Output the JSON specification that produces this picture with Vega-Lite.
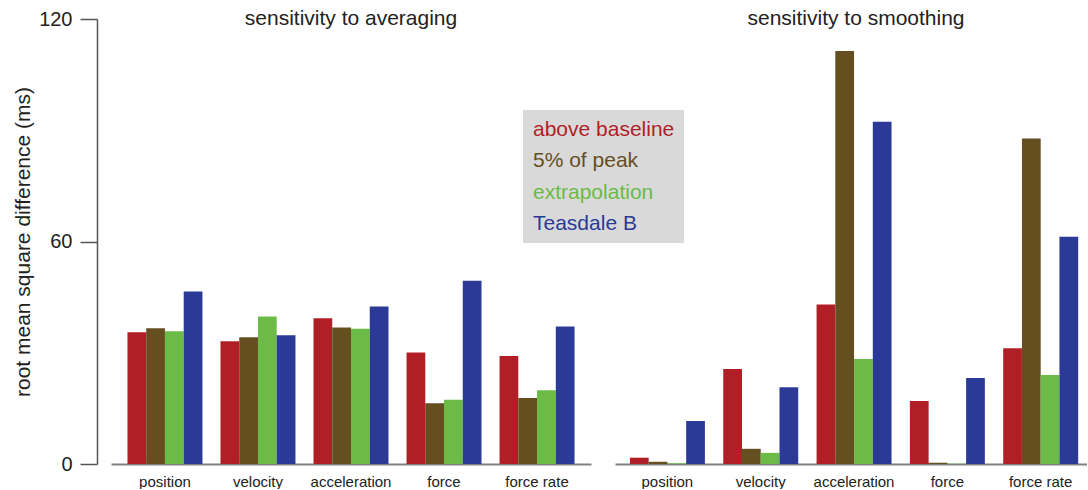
{
  "$schema": "https://vega.github.io/schema/vega-lite/v6.json",
  "padding": {"left": 12, "top": 8, "right": 0, "bottom": 0},
  "data": {"values": [
    {"panel": "averaging", "measure": "position", "method": "above baseline", "value": 35.5},
    {"panel": "averaging", "measure": "position", "method": "5% of peak", "value": 36.6},
    {"panel": "averaging", "measure": "position", "method": "extrapolation", "value": 35.8},
    {"panel": "averaging", "measure": "position", "method": "Teasdale B", "value": 46.5},
    {"panel": "averaging", "measure": "velocity", "method": "above baseline", "value": 33.1},
    {"panel": "averaging", "measure": "velocity", "method": "5% of peak", "value": 34.2},
    {"panel": "averaging", "measure": "velocity", "method": "extrapolation", "value": 39.8},
    {"panel": "averaging", "measure": "velocity", "method": "Teasdale B", "value": 34.7},
    {"panel": "averaging", "measure": "acceleration", "method": "above baseline", "value": 39.3},
    {"panel": "averaging", "measure": "acceleration", "method": "5% of peak", "value": 36.8},
    {"panel": "averaging", "measure": "acceleration", "method": "extrapolation", "value": 36.5},
    {"panel": "averaging", "measure": "acceleration", "method": "Teasdale B", "value": 42.5},
    {"panel": "averaging", "measure": "force", "method": "above baseline", "value": 30.1},
    {"panel": "averaging", "measure": "force", "method": "5% of peak", "value": 16.4},
    {"panel": "averaging", "measure": "force", "method": "extrapolation", "value": 17.3},
    {"panel": "averaging", "measure": "force", "method": "Teasdale B", "value": 49.4},
    {"panel": "averaging", "measure": "force rate", "method": "above baseline", "value": 29.1},
    {"panel": "averaging", "measure": "force rate", "method": "5% of peak", "value": 17.8},
    {"panel": "averaging", "measure": "force rate", "method": "extrapolation", "value": 19.9},
    {"panel": "averaging", "measure": "force rate", "method": "Teasdale B", "value": 37.1},
    {"panel": "smoothing", "measure": "position", "method": "above baseline", "value": 1.7},
    {"panel": "smoothing", "measure": "position", "method": "5% of peak", "value": 0.6},
    {"panel": "smoothing", "measure": "position", "method": "extrapolation", "value": 0.2},
    {"panel": "smoothing", "measure": "position", "method": "Teasdale B", "value": 11.6},
    {"panel": "smoothing", "measure": "velocity", "method": "above baseline", "value": 25.6},
    {"panel": "smoothing", "measure": "velocity", "method": "5% of peak", "value": 4.1},
    {"panel": "smoothing", "measure": "velocity", "method": "extrapolation", "value": 3.0},
    {"panel": "smoothing", "measure": "velocity", "method": "Teasdale B", "value": 20.7},
    {"panel": "smoothing", "measure": "acceleration", "method": "above baseline", "value": 43.0},
    {"panel": "smoothing", "measure": "acceleration", "method": "5% of peak", "value": 111.4},
    {"panel": "smoothing", "measure": "acceleration", "method": "extrapolation", "value": 28.3},
    {"panel": "smoothing", "measure": "acceleration", "method": "Teasdale B", "value": 92.3},
    {"panel": "smoothing", "measure": "force", "method": "above baseline", "value": 17.0},
    {"panel": "smoothing", "measure": "force", "method": "5% of peak", "value": 0.35},
    {"panel": "smoothing", "measure": "force", "method": "extrapolation", "value": 0.1},
    {"panel": "smoothing", "measure": "force", "method": "Teasdale B", "value": 23.2},
    {"panel": "smoothing", "measure": "force rate", "method": "above baseline", "value": 31.2},
    {"panel": "smoothing", "measure": "force rate", "method": "5% of peak", "value": 87.8},
    {"panel": "smoothing", "measure": "force rate", "method": "extrapolation", "value": 24.0},
    {"panel": "smoothing", "measure": "force rate", "method": "Teasdale B", "value": 61.3}
  ]},
  "spacing": 24,
  "bounds": "flush",
  "resolve": {"scale": {"y": "shared", "color": "shared"}},
  "hconcat": [
    {
      "width": 480,
      "height": 445,
      "title": {"text": "sensitivity to averaging", "offset": -20},
      "transform": [{"filter": "datum.panel == 'averaging'"}],
      "mark": {"type": "bar"},
      "encoding": {
        "x": {
          "field": "measure",
          "type": "nominal",
          "sort": ["position", "velocity", "acceleration", "force", "force rate"],
          "scale": {"paddingInner": 0.194, "paddingOuter": 0.177},
          "axis": {"title": null}
        },
        "xOffset": {
          "field": "method",
          "type": "nominal",
          "sort": ["above baseline", "5% of peak", "extrapolation", "Teasdale B"],
          "scale": {"paddingInner": 0, "paddingOuter": 0}
        },
        "y": {
          "field": "value",
          "type": "quantitative",
          "scale": {"domain": [0, 120], "nice": false},
          "axis": {
            "title": "root mean square difference (ms)",
            "titleFontSize": 21,
            "titleFontWeight": "normal",
            "titleColor": "#222222",
            "titlePadding": 5,
            "values": [0, 60, 120],
            "grid": false,
            "offset": 14,
            "tickSize": 17,
            "tickColor": "#555555",
            "tickWidth": 1.5,
            "domainColor": "#555555",
            "domainWidth": 1.5,
            "labelFontSize": 20,
            "labelColor": "#222222",
            "labelPadding": 8
          }
        },
        "color": {
          "field": "method",
          "type": "nominal",
          "scale": {
            "domain": ["above baseline", "5% of peak", "extrapolation", "Teasdale B"],
            "range": ["#b11f26", "#654e1f", "#6bbb46", "#2b3a97"]
          },
          "legend": {
            "title": null,
            "orient": "none",
            "legendX": 412,
            "legendY": 91,
            "fillColor": "#d9d9d9",
            "padding": 9,
            "labelFontSize": 21,
            "labelOffset": -20,
            "labelColor": {"expr": "scale('color', datum.value)"},
            "rowPadding": 9.5,
            "symbolSize": 0,
            "symbolOpacity": 0,
            "symbolStrokeWidth": 0
          }
        }
      }
    },
    {
      "width": 472,
      "height": 445,
      "title": {"text": "sensitivity to smoothing", "offset": -10, "dx": 5},
      "transform": [{"filter": "datum.panel == 'smoothing'"}],
      "mark": {"type": "bar"},
      "encoding": {
        "x": {
          "field": "measure",
          "type": "nominal",
          "sort": ["position", "velocity", "acceleration", "force", "force rate"],
          "scale": {"paddingInner": 0.198, "paddingOuter": 0.128, "align": 0.625},
          "axis": {"title": null}
        },
        "xOffset": {
          "field": "method",
          "type": "nominal",
          "sort": ["above baseline", "5% of peak", "extrapolation", "Teasdale B"],
          "scale": {"paddingInner": 0, "paddingOuter": 0}
        },
        "y": {
          "field": "value",
          "type": "quantitative",
          "scale": {"domain": [0, 120], "nice": false},
          "axis": null
        },
        "color": {
          "field": "method",
          "type": "nominal",
          "scale": {
            "domain": ["above baseline", "5% of peak", "extrapolation", "Teasdale B"],
            "range": ["#b11f26", "#654e1f", "#6bbb46", "#2b3a97"]
          },
          "legend": null
        }
      }
    }
  ],
  "config": {
    "view": {"stroke": null},
    "font": "Liberation Sans",
    "title": {"fontSize": 21, "fontWeight": "normal", "color": "#222222", "anchor": "middle"},
    "axisX": {
      "labelAngle": 0,
      "ticks": false,
      "domainColor": "#808080",
      "domainWidth": 2,
      "labelFontSize": 15,
      "labelColor": "#222222",
      "labelPadding": 10
    }
  }
}
